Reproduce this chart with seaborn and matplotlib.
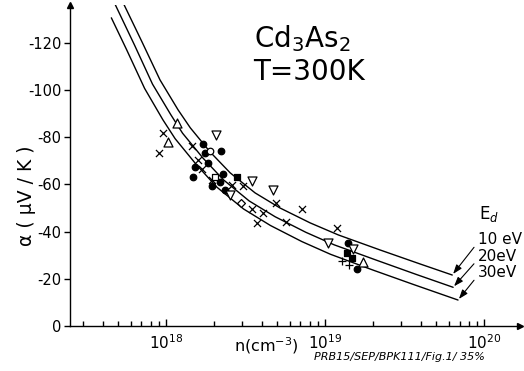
import numpy as np
import pandas as pd
import seaborn as sns
import matplotlib
matplotlib.use('Agg')
import matplotlib.pyplot as plt

# calculated thermopower curves (alpha vs carrier density) for three donor energies
n_10ev = [5.45e17, 7.06e17, 9.16e17, 1.19e18, 1.42e18, 1.89e18, 2.53e18,
          3.63e18, 5.21e18, 8.05e18, 1.21e19, 2.22e19, 3.95e19, 6.30e19]
alpha_10ev = [-136.1, -120.4, -104.3, -91.6, -84.0, -73.8, -64.9,
              -56.4, -50.0, -43.7, -38.6, -32.2, -26.3, -21.6]
n_20ev = [4.80e17, 6.35e17, 8.22e17, 1.07e18, 1.27e18, 1.71e18, 2.30e18,
          3.33e18, 4.85e18, 7.57e18, 1.14e19, 2.10e19, 3.76e19, 6.38e19]
alpha_20ev = [-136.1, -118.9, -102.5, -89.6, -81.7, -71.1, -61.9,
              -53.0, -46.3, -39.7, -34.4, -27.9, -21.8, -16.4]
n_30ev = [4.53e17, 5.65e17, 7.33e17, 9.55e17, 1.14e18, 1.55e18, 2.09e18,
          3.07e18, 4.53e18, 7.13e18, 1.08e19, 2.00e19, 3.59e19, 6.85e19]
alpha_30ev = [-130.6, -117.1, -100.7, -87.4, -79.4, -68.4, -58.8,
              -49.6, -42.6, -35.8, -30.4, -23.7, -17.6, -11.0]
curve_labels = ['10 eV', '20eV', '30eV']

# measured samples, grouped by symbol
cross_n = [9.0e17, 9.6e17, 1.46e18, 1.59e18, 1.68e18, 1.95e18, 2.60e18, 3.05e18,
           3.47e18, 4.07e18, 4.92e18, 5.69e18, 3.73e18, 7.16e18, 1.19e19]
cross_a = [-73.4, -81.8, -76.3, -70.4, -66.6, -61.9, -59.8, -59.4,
           -49.6, -47.9, -52.2, -44.1, -43.7, -49.6, -41.6]
plus_n = [1.28e19, 1.42e19]
plus_a = [-27.6, -25.9]
dot_n = [1.71e18, 1.76e18, 2.22e18, 1.52e18, 1.84e18, 1.48e18, 1.95e18,
         2.19e18, 2.35e18, 2.28e18, 1.40e19, 1.59e19]
dot_a = [-77.2, -73.4, -74.2, -67.4, -69.1, -63.2, -59.4,
         -61.1, -57.7, -64.5, -35.2, -24.2]
ring_n = [1.89e18]
ring_a = [-74.2]
osq_n = [2.03e18]
osq_a = [-63.2]
diam_n = [2.96e18]
diam_a = [-52.2]
fsq_n = [2.80e18, 1.37e19, 1.48e19]
fsq_a = [-63.2, -31.0, -28.8]
up_n = [1.03e18, 1.17e18, 1.73e19]
up_a = [-78.0, -86.1, -27.1]
down_n = [2.06e18, 2.53e18, 3.47e18, 4.71e18, 1.04e19, 1.50e19]
down_a = [-81.0, -55.6, -61.5, -57.7, -35.2, -32.7]

curves = pd.DataFrame({
    'n': n_10ev + n_20ev + n_30ev,
    'alpha': alpha_10ev + alpha_20ev + alpha_30ev,
    'Ed': np.repeat(curve_labels, [len(n_10ev), len(n_20ev), len(n_30ev)]),
})

sns.set_style('ticks')
plt.rcParams['font.family'] = ['DejaVu Sans']
plt.rcParams['axes.unicode_minus'] = False
for key in ['text.color', 'axes.labelcolor', 'xtick.color', 'ytick.color',
            'axes.edgecolor']:
    plt.rcParams[key] = 'black'

fig = plt.figure(figsize=(5.24, 3.71), dpi=100)
ax = fig.add_axes([0.1336, 0.1213, 0.8588, 0.865])
ax.set_xscale('log')

sns.lineplot(data=curves, x='n', y='alpha', units='Ed', estimator=None,
             sort=False, color='black', linewidth=1.0, ax=ax)

# symbol, fill, size for each group of points
groups = [
    (cross_n, cross_a, 'x', 'black', 26),
    (plus_n, plus_a, '+', 'black', 30),
    (dot_n, dot_a, 'o', 'black', 22),
    (ring_n, ring_a, 'o', 'white', 22),
    (osq_n, osq_a, 's', 'white', 20),
    (diam_n, diam_a, 'D', 'white', 16),
    (fsq_n, fsq_a, 's', 'black', 22),
    (up_n, up_a, '^', 'white', 42),
    (down_n, down_a, 'v', 'white', 42),
]
for gx, gy, mk, fc, sz in groups:
    sns.scatterplot(x=gx, y=gy, marker=mk, s=sz, color='black',
                    facecolor=fc, edgecolor='black', linewidth=0.9,
                    zorder=3, ax=ax)

ax.set_xlim(2.49e17, 1.68e20)
ax.set_ylim(0, -136)
ax.set_yticks([0, -20, -40, -60, -80, -100, -120])
sns.despine(ax=ax)
for side in ['left', 'bottom']:
    ax.spines[side].set_linewidth(1.0)
ax.tick_params(axis='y', direction='out', length=4, width=1, labelsize=10.5, pad=2)
ax.tick_params(axis='x', which='major', direction='in', length=5, width=1,
               labelsize=11, pad=5)
ax.tick_params(axis='x', which='minor', direction='in', length=3.5, width=1)
ax.plot(1, 0, '>k', ms=5, transform=ax.transAxes, clip_on=False)
ax.plot(0, 1, '^k', ms=5, transform=ax.transAxes, clip_on=False)

ax.set_xlabel('')
ax.set_ylabel('α ( μV / K )', fontsize=13.5)
ax.yaxis.set_label_coords(-0.075, 0.405)
ax.text(0.436, -0.062, 'n(cm$^{-3}$)', fontsize=11.5, ha='center', va='center',
        transform=ax.transAxes)
ax.text(0.733, -0.096, 'PRB15/SEP/BPK111/Fig.1/ 35%', fontsize=8, style='italic',
        ha='center', va='center', transform=ax.transAxes)

ax.text(0.516, 0.897, 'Cd$_3$As$_2$', fontsize=20, ha='center', va='center',
        transform=ax.transAxes)
ax.text(0.531, 0.791, 'T=300K', fontsize=20, ha='center', va='center',
        transform=ax.transAxes)

ax.text(0.931, 0.349, 'E$_d$', fontsize=12, ha='center', va='center',
        transform=ax.transAxes)
ends = [(n_10ev[-1], alpha_10ev[-1]), (n_20ev[-1], alpha_20ev[-1]),
        (n_30ev[-1], alpha_30ev[-1])]
label_y = [0.271, 0.218, 0.168]
for lab, (ex, ey), ly in zip(curve_labels, ends, label_y):
    ax.annotate(lab, xy=(ex, ey), xytext=(0.907, ly), textcoords='axes fraction',
                fontsize=11, ha='left', va='center',
                arrowprops=dict(arrowstyle='-|>,head_length=0.5,head_width=0.18',
                                color='black', lw=0.8, relpos=(0, 0.3),
                                shrinkA=1, shrinkB=1))

fig.savefig('out.png', dpi=100)
